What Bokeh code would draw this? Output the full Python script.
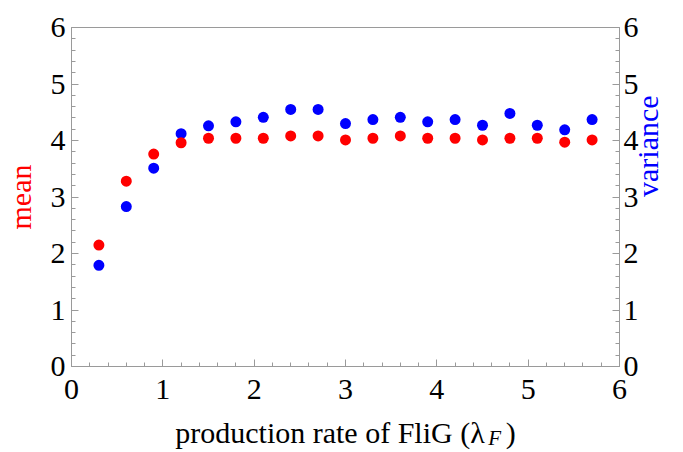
import math
from bokeh.plotting import figure
from bokeh.models import LinearAxis, SingleIntervalTicker, FixedTicker, ColumnDataSource
from bokeh.embed import file_html
from bokeh.resources import INLINE

# ---- data ----
rate = [0.3, 0.6, 0.9, 1.2, 1.5, 1.8, 2.1, 2.4, 2.7, 3.0, 3.3, 3.6, 3.9, 4.2, 4.5, 4.8, 5.1, 5.4, 5.7]
mean = [2.15, 3.28, 3.76, 3.96, 4.04, 4.04, 4.04, 4.08, 4.08, 4.01, 4.04, 4.08, 4.04, 4.04, 4.01, 4.04, 4.04, 3.97, 4.01]
variance = [1.79, 2.83, 3.51, 4.12, 4.26, 4.33, 4.41, 4.55, 4.55, 4.30, 4.37, 4.41, 4.33, 4.37, 4.27, 4.48, 4.27, 4.19, 4.37]
tick_interval = 1
x_label_main = "production rate of FliG (\u03bb\u2002\u2009)"
x_label_sub = "\u2003" * 14 + "\u2009F"
y_label_left = "mean"
y_label_right = "variance"

FONT = "Liberation Serif"
AXIS_COLOR = "#9a9a9a"

p = figure(width=683, height=452, x_range=(0, 6), y_range=(0, 6),
           output_backend="svg", toolbar_location=None,
           min_border_left=71, min_border_right=64, min_border_top=27, min_border_bottom=86)
p.grid.visible = False
p.outline_line_color = AXIS_COLOR
p.outline_line_width = 1

right_axis = LinearAxis()
p.add_layout(right_axis, "right")

for ax in [p.xaxis[0], p.yaxis[0], right_axis]:
    ax.ticker = SingleIntervalTicker(interval=tick_interval, num_minor_ticks=5)
    ax.axis_line_color = AXIS_COLOR
    ax.major_tick_line_color = AXIS_COLOR
    ax.minor_tick_line_color = AXIS_COLOR
    ax.major_tick_in = 7
    ax.major_tick_out = 0
    ax.minor_tick_in = 4
    ax.minor_tick_out = 0
    ax.major_label_text_font = FONT
    ax.major_label_text_font_size = "30px"
    ax.major_label_text_color = "black"
    ax.axis_label_text_font = FONT
    ax.axis_label_text_font_size = "30px"
    ax.axis_label_text_font_style = "normal"

p.yaxis[0].major_label_standoff = 6
right_axis.major_label_standoff = 4
p.xaxis[0].major_label_standoff = 13

p.yaxis[0].axis_label = y_label_left
p.yaxis[0].axis_label_text_color = "#FF0000"
p.yaxis[0].axis_label_standoff = 11

right_axis.axis_label = y_label_right
right_axis.axis_label_text_color = "#0000FF"
right_axis.axis_label_standoff = 6
try:
    right_axis.axis_label_orientation = math.pi / 2
except Exception:
    pass

p.xaxis[0].axis_label = x_label_main
p.xaxis[0].axis_label_text_color = "black"
p.xaxis[0].axis_label_standoff = 14

# subscript F of lambda, as the label of a bare second axis
sub_axis = LinearAxis(ticker=FixedTicker(ticks=[]))
sub_axis.axis_line_color = None
sub_axis.major_tick_line_color = None
sub_axis.minor_tick_line_color = None
sub_axis.major_label_text_font_size = "0px"
sub_axis.major_label_standoff = 0
sub_axis.axis_label = x_label_sub
sub_axis.axis_label_text_font = FONT
sub_axis.axis_label_text_font_size = "21px"
sub_axis.axis_label_text_font_style = "italic"
sub_axis.axis_label_text_color = "black"
sub_axis.axis_label_standoff = -26
p.add_layout(sub_axis, "below")

src = ColumnDataSource(dict(x=rate, m=mean, v=variance))
p.scatter("x", "v", source=src, size=11, color="#0000FF", line_color=None)
p.scatter("x", "m", source=src, size=11, color="#FF0000", line_color=None)

open("out.html", "w").write(file_html(p, INLINE))
